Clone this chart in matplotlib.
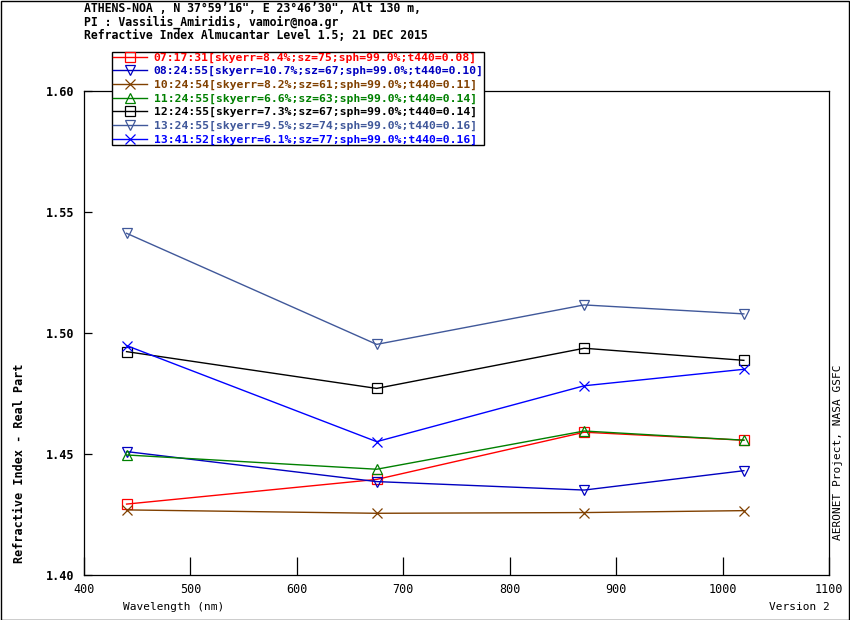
import matplotlib.pyplot as plt
from matplotlib.patches import Rectangle

# wavelengths (nm)
wavelengths = [440, 675, 870, 1020]

# series labels and real part refractive index per series
labels = [
    "07:17:31[skyerr=8.4%;sz=75;sph=99.0%;t440=0.08]",
    "08:24:55[skyerr=10.7%;sz=67;sph=99.0%;t440=0.10]",
    "10:24:54[skyerr=8.2%;sz=61;sph=99.0%;t440=0.11]",
    "11:24:55[skyerr=6.6%;sz=63;sph=99.0%;t440=0.14]",
    "12:24:55[skyerr=7.3%;sz=67;sph=99.0%;t440=0.14]",
    "13:24:55[skyerr=9.5%;sz=74;sph=99.0%;t440=0.16]",
    "13:41:52[skyerr=6.1%;sz=77;sph=99.0%;t440=0.16]",
]
ri_0717 = [1.4293, 1.4395, 1.4590, 1.4557]
ri_0824 = [1.4510, 1.4386, 1.4351, 1.4431]
ri_1024 = [1.4269, 1.4255, 1.4258, 1.4266]
ri_1124 = [1.4496, 1.4437, 1.4595, 1.4557]
ri_1224 = [1.4923, 1.4771, 1.4937, 1.4887]
ri_1324 = [1.5412, 1.4953, 1.5116, 1.5079]
ri_1341 = [1.4948, 1.4551, 1.4782, 1.4850]
series = [ri_0717, ri_0824, ri_1024, ri_1124, ri_1224, ri_1324, ri_1341]

colors = ['#ff0000', '#0000c0', '#804000', '#008000', '#000000', '#40589a', '#0000ff']
markers = ['s', 'v', 'x', '^', 's', 'v', 'x']

yticks = [1.40, 1.45, 1.50, 1.55, 1.60]
xticks = [400, 500, 600, 700, 800, 900, 1000, 1100]

W, H = 850, 620
fig = plt.figure(figsize=(W / 100, H / 100), dpi=100)
mono = 'DejaVu Sans Mono'

ax = fig.add_axes([84 / W, 1 - 575 / H, (829 - 84) / W, (575 - 91) / H])

handles = []
for vals, c, m, lab in zip(series, colors, markers, labels):
    ln, = ax.plot(wavelengths, vals, color=c, marker=m, markersize=6.5,
                  markerfacecolor='none', markeredgecolor=c, markeredgewidth=0.9,
                  linewidth=1.0, label=lab)
    handles.append(ln)

ax.set_xlim(400, 1100)
ax.set_ylim(1.40, 1.60)
ax.set_xticks(xticks)
ax.set_yticks(yticks)
ax.set_xticklabels([str(v) for v in xticks], fontfamily=mono, fontsize=8.5)
ax.set_yticklabels(['%.2f' % v for v in yticks], fontfamily=mono, fontsize=8.5, fontweight='bold')
ax.tick_params(axis='x', direction='in', length=13, width=0.9, pad=6)
ax.tick_params(axis='y', direction='in', length=6, width=0.9, pad=7)
for s in ax.spines.values():
    s.set_linewidth(0.9)

# header lines
header = [
    "ATHENS-NOA , N 37\u00b059\u201916\", E 23\u00b046\u201930\", Alt 130 m,",
    "PI : Vassilis_Amiridis, vamoir@noa.gr",
    "Refractive Index Almucantar Level 1.5; 21 DEC 2015",
]
for i, t in enumerate(header):
    fig.text(84 / W, 1 - (9 + 13.3 * i) / H, t, fontfamily=mono, fontsize=8.3,
             fontweight='bold', va='center', ha='left')

leg = fig.legend(handles=handles, loc='upper left',
                 bbox_to_anchor=(112 / W, 1 - 52 / H), bbox_transform=fig.transFigure,
                 prop={'family': mono, 'size': 8.2, 'weight': 'bold'},
                 labelcolor='linecolor', frameon=True, fancybox=False,
                 edgecolor='black', framealpha=1, borderpad=0.05,
                 borderaxespad=0, handlelength=3.0, handletextpad=0.6,
                 labelspacing=0.3, markerscale=1.0)
leg.get_frame().set_linewidth(1.0)

fig.text(20 / W, 1 - 563 / H, "Refractive Index - Real Part", rotation=90,
         fontfamily=mono, fontsize=8.5, fontweight='bold', ha='center', va='bottom')
fig.text(838 / W, 1 - 540 / H, "AERONET Project, NASA GSFC", rotation=90,
         fontfamily=mono, fontsize=8, ha='center', va='bottom')
fig.text(123 / W, 1 - 607 / H, "Wavelength (nm)", fontfamily=mono, fontsize=8,
         ha='left', va='center')
fig.text(830 / W, 1 - 607 / H, "Version 2", fontfamily=mono, fontsize=8,
         ha='right', va='center')

# outer border
fig.patches.append(Rectangle((0.5 / W, 0.5 / H), 1 - 1.5 / W, 1 - 1.5 / H,
                             transform=fig.transFigure, fill=False,
                             edgecolor='black', linewidth=1.0))

fig.savefig('out.png', dpi=100)
